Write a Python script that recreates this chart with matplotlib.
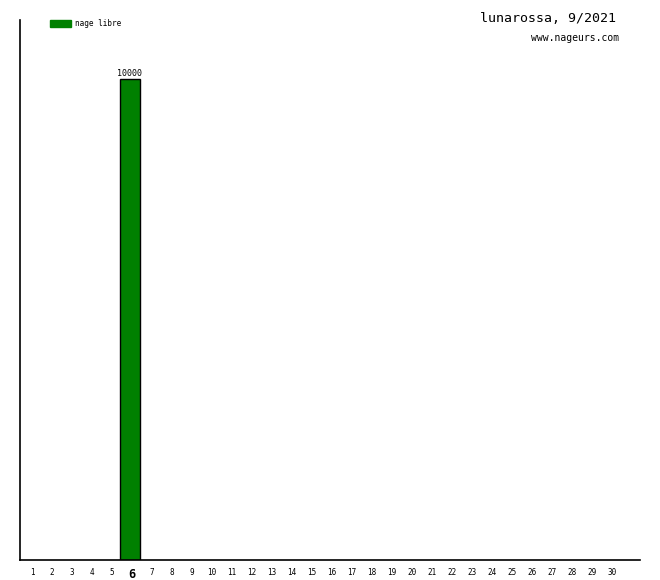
import matplotlib
matplotlib.use("Agg")
import matplotlib.pyplot as plt
from matplotlib.patches import Rectangle

# data
days = list(range(1, 31))
distances = [0, 0, 0, 0, 0, 10000] + [0] * 24
highlight_day = 6
legend_label = "nage libre"
bar_color = "#008000"
title = "lunarossa, 9/2021"
site = "www.nageurs.com"

W, H = 660, 580
fig = plt.figure(figsize=(W / 100, H / 100), dpi=100)
ax = fig.add_axes([20 / W, 20 / H, 620 / W, 540 / H])

for d, v in zip(days, distances):
    if v > 0:
        ax.bar(d, v, width=1.0, color=bar_color, edgecolor="black", linewidth=1)
        ax.text(d, v + 25, f"{v}", ha="center", va="bottom",
                fontsize=6, family="DejaVu Sans Mono")

ax.set_xlim(0.5, 31.5)
ax.set_ylim(0, 11230)
ax.set_yticks([])
# labels sit a couple of pixels right of the slot centre in the original
ax.set_xticks([d + 0.1 for d in days])
ax.set_xticklabels([str(d) for d in days], family="DejaVu Sans Mono", fontsize=5.5)
for lbl, d in zip(ax.get_xticklabels(), days):
    if d == highlight_day:
        lbl.set_fontsize(8.5)
        lbl.set_fontweight("bold")
ax.tick_params(axis="x", length=0, pad=6)
for s in ("top", "right"):
    ax.spines[s].set_visible(False)
ax.spines["left"].set_linewidth(1.2)
ax.spines["bottom"].set_linewidth(1.2)

# legend
fig.patches.append(Rectangle((50 / W, 1 - 27 / H), 21 / W, 7 / H,
                             transform=fig.transFigure, color=bar_color))
fig.text(75 / W, 1 - 23 / H, legend_label, fontsize=5.5,
         family="DejaVu Sans Mono", va="center", ha="left")

fig.text(616 / W, 1 - 18 / H, title, fontsize=9.5, family="DejaVu Sans Mono",
         ha="right", va="center")
fig.text(619 / W, 1 - 38 / H, site, fontsize=7, family="DejaVu Sans Mono",
         ha="right", va="center")

fig.savefig("out.png", dpi=100)
